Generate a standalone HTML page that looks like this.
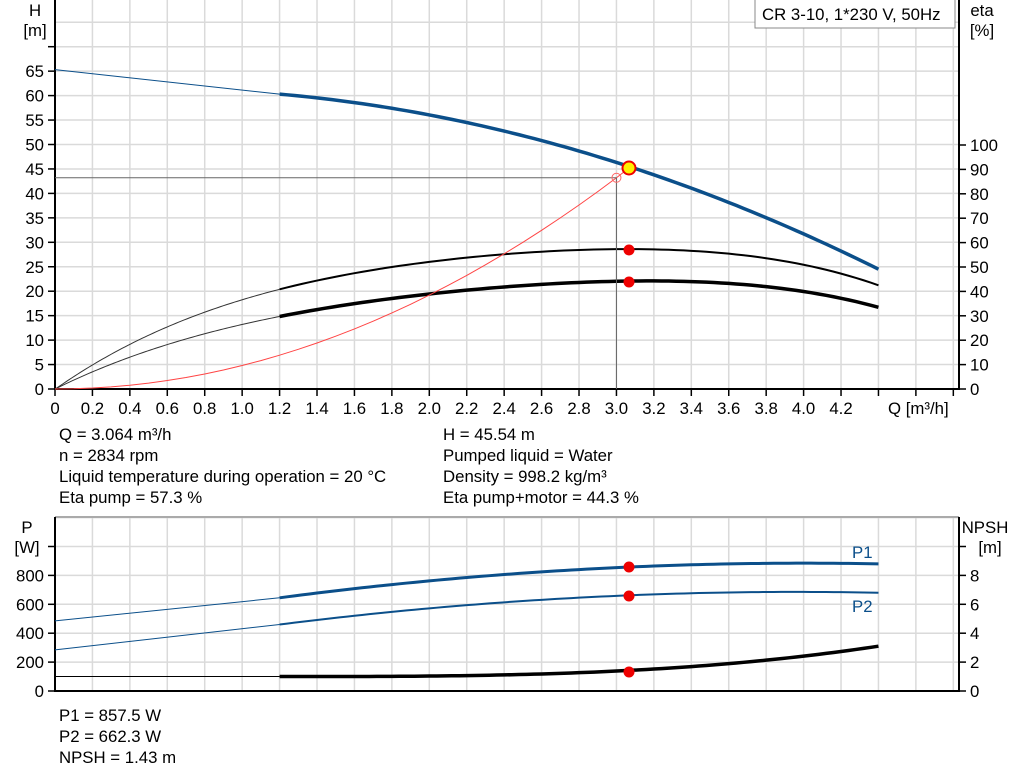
<!DOCTYPE html>
<html><head><meta charset="utf-8"><style>
html,body{margin:0;padding:0;background:#fff;width:1024px;height:781px;overflow:hidden}
svg{display:block;font-family:"Liberation Sans",Arial,sans-serif}
</style></head><body>
<svg id="s" width="1024" height="781" xmlns="http://www.w3.org/2000/svg"></svg>
<script>
const S=document.getElementById('s');let h='';
const X0=55,XR=959,PX=187.15;
const qx=q=>X0+q*PX;
const hy=v=>389-v*4.89, ey=v=>389-v*2.44, py=v=>691-v*0.1445, ny=v=>691-v*14.45;
for(let i=1;i<=24;i++){const x=qx(i*0.2);if(x<XR-2)h+=`<line x1="${x}" y1="0" x2="${x}" y2="389" stroke="#dadada" stroke-width="1.5"/>`;}
for(let i=1;i<=16;i++){const y=hy(i*5);if(y>0)h+=`<line x1="${X0}" y1="${y}" x2="${XR}" y2="${y}" stroke="#dadada" stroke-width="1.5"/>`;}
for(let i=1;i<=24;i++){const x=qx(i*0.2);if(x<XR-2)h+=`<line x1="${x}" y1="517" x2="${x}" y2="691" stroke="#dadada" stroke-width="1.5"/>`;}
for(let i=1;i<=6;i++){const y=py(i*200);h+=`<line x1="${X0}" y1="${y}" x2="${XR}" y2="${y}" stroke="#dadada" stroke-width="1.5"/>`;}
h+=`<line x1="${X0}" y1="517" x2="${XR}" y2="517" stroke="#aaa" stroke-width="2"/>`;
h+=`<line x1="${X0}" y1="0" x2="${X0}" y2="390" stroke="#000" stroke-width="2"/><line x1="${XR}" y1="0" x2="${XR}" y2="390" stroke="#000" stroke-width="2"/><line x1="${X0}" y1="389" x2="${XR}" y2="389" stroke="#000" stroke-width="2"/>`;
h+=`<line x1="${X0}" y1="517" x2="${X0}" y2="692" stroke="#000" stroke-width="2"/><line x1="${XR}" y1="517" x2="${XR}" y2="692" stroke="#000" stroke-width="2"/><line x1="${X0}" y1="691" x2="${XR}" y2="691" stroke="#000" stroke-width="2"/>`;
const FS=16.8;
const T=(x,y,t,a='start',c='#000')=>`<text x="${x}" y="${y}" font-size="${FS}" text-anchor="${a}" fill="${c}">${t}</text>`;
for(let i=0;i<=14;i++){const y=hy(i*5);h+=`<line x1="48" y1="${y}" x2="${X0}" y2="${y}" stroke="#000" stroke-width="1.5"/>`;if(i<=13)h+=T(44,y+6,i*5,'end');}
for(let i=0;i<=10;i++){const y=ey(i*10);h+=`<line x1="${XR}" y1="${y}" x2="${XR+7}" y2="${y}" stroke="#000" stroke-width="1.5"/>`+T(970,y+6,i*10);}
for(let i=0;i<=25;i++){const q=i*0.2,x=qx(q);if(x>XR+1)break;h+=`<line x1="${x}" y1="389" x2="${x}" y2="396" stroke="#000" stroke-width="1.5"/>`;if(i<=21)h+=T(x,414,i==0?'0':q.toFixed(1),'middle');}
h+=T(888,414,'Q [m³/h]');
h+=T(35,16,'H','middle')+T(35,36,'[m]','middle')+T(982,16,'eta','middle')+T(982,36,'[%]','middle');
h+=`<rect x="755" y="-1" width="200" height="29" fill="#fff" stroke="#888"/>`+T(762,20,'CR 3-10, 1*230 V, 50Hz');
for(let i=0;i<=5;i++){const y=py(i*200);h+=`<line x1="48" y1="${y}" x2="${X0}" y2="${y}" stroke="#000" stroke-width="1.5"/>`;if(i<5)h+=T(44,y+6,i*200,'end');}
for(let i=0;i<=5;i++){const y=ny(i*2);h+=`<line x1="${XR}" y1="${y}" x2="${XR+7}" y2="${y}" stroke="#000" stroke-width="1.5"/>`;if(i<5)h+=T(970,y+6,i*2);}
h+=T(27,533,'P','middle')+T(27,553,'[W]','middle')+T(985,533,'NPSH','middle')+T(990,553,'[m]','middle');
h+=T(59,440,'Q = 3.064 m³/h')+T(59,461,'n = 2834 rpm')+T(59,482,'Liquid temperature during operation = 20 °C')+T(59,503,'Eta pump = 57.3 %');
h+=T(443,440,'H = 45.54 m')+T(443,461,'Pumped liquid = Water')+T(443,482,'Density = 998.2 kg/m³')+T(443,503,'Eta pump+motor = 44.3 %');
h+=T(59,721,'P1 = 857.5 W')+T(59,742,'P2 = 662.3 W')+T(59,763,'NPSH = 1.43 m');
// least squares poly fit
function fit(pts,deg){const n=deg+1;const A=[];for(let i=0;i<n;i++){A.push(new Array(n+1).fill(0));}
for(const [x,y] of pts){for(let i=0;i<n;i++){for(let j=0;j<n;j++)A[i][j]+=Math.pow(x,i+j);A[i][n]+=y*Math.pow(x,i);}}
for(let i=0;i<n;i++){let m=i;for(let k=i+1;k<n;k++)if(Math.abs(A[k][i])>Math.abs(A[m][i]))m=k;[A[i],A[m]]=[A[m],A[i]];
for(let k=0;k<n;k++){if(k==i)continue;const f=A[k][i]/A[i][i];for(let j=i;j<=n;j++)A[k][j]-=f*A[i][j];}}
const c=A.map((r,i)=>r[n]/r[i]);return x=>c.reduce((s,ci,i)=>s+ci*Math.pow(x,i),0);}
function path(f,fy,a,b){let d='';const N=80;for(let i=0;i<=N;i++){const q=a+(b-a)*i/N;d+=(i?'L':'M')+qx(q).toFixed(2)+','+fy(f(q)).toFixed(2)+' ';}return d;}
const P=(d,c,w)=>`<path d="${d}" fill="none" stroke="${c}" stroke-width="${w}" stroke-linejoin="round"/>`;
const B='#0b4f8a',QE=4.4;
// H
const fH=fit([[1.2,60.3],[3.064,45.54],[4.4,24.5]],2);
h+=`<line x1="${qx(0)}" y1="${hy(65.3)}" x2="${qx(1.2)}" y2="${hy(60.3)}" stroke="${B}" stroke-width="1"/>`+P(path(fH,hy,1.2,QE),B,3.5);
const fE=fit([[0,0],[0.3,14],[0.6,25.5],[1.2,41],[2.0,52],[3.0,57.3],[3.6,55.5],[4.4,42.5]],4);
h+=P(path(fE,ey,0,1.2),'#333',1)+P(path(fE,ey,1.2,QE),'#000',2);
const fM=fit([[0,0],[0.3,10],[0.6,18.5],[1.2,29.5],[2.0,39],[3.064,44.3],[3.6,43.2],[4.4,33.5]],4);
h+=P(path(fM,ey,0,1.2),'#333',1)+P(path(fM,ey,1.2,QE),'#000',3.5);
let sd='';for(let q=0;q<=3.0001;q+=0.1){sd+=(q==0?'M':'L')+qx(q)+','+hy(43.2*(q/3)*(q/3))+' ';}
h+=P(sd,'#f44',1);
const ox=qx(3.0),oy=hy(43.2);
h+=`<polyline points="${X0},${oy} ${ox},${oy} ${ox},389" fill="none" stroke="#666" stroke-width="1"/>`;
h+=`<line x1="${ox}" y1="${oy}" x2="629" y2="168" stroke="#f44" stroke-width="1"/><circle cx="${ox}" cy="${oy}" r="4.5" fill="none" stroke="#f66" stroke-width="1"/>`;
h+=`<circle cx="629" cy="168" r="6.5" fill="#ffef00" stroke="#e00" stroke-width="2"/>`;
h+=`<circle cx="629" cy="250" r="5.5" fill="#e00"/><circle cx="629" cy="282" r="5.5" fill="#e00"/>`;
// bottom
const fP1=fit([[1.2,645],[3.064,857.5],[4.4,880]],2),fP2=fit([[1.2,460],[3.064,662],[4.4,680]],2);
h+=`<line x1="${qx(0)}" y1="${py(485)}" x2="${qx(1.2)}" y2="${py(645)}" stroke="${B}" stroke-width="1"/>`+P(path(fP1,py,1.2,QE),B,3);
h+=`<line x1="${qx(0)}" y1="${py(285)}" x2="${qx(1.2)}" y2="${py(460)}" stroke="${B}" stroke-width="1"/>`+P(path(fP2,py,1.2,QE),B,2);
const fN=q=>1.0+0.0664*Math.pow(Math.max(0,q-1.2),2.97);
h+=`<line x1="${X0}" y1="${ny(1.0)}" x2="${qx(1.2)}" y2="${ny(1.0)}" stroke="#000" stroke-width="1"/>`+P(path(fN,ny,1.2,QE),'#000',3.5);
h+=`<circle cx="629" cy="567" r="5.5" fill="#e00"/><circle cx="629" cy="596" r="5.5" fill="#e00"/><circle cx="629" cy="672" r="5.5" fill="#e00"/>`;
h+=T(852,558,'P1','start',B)+T(852,612,'P2','start',B);
S.innerHTML=h;
</script>
</body></html>
